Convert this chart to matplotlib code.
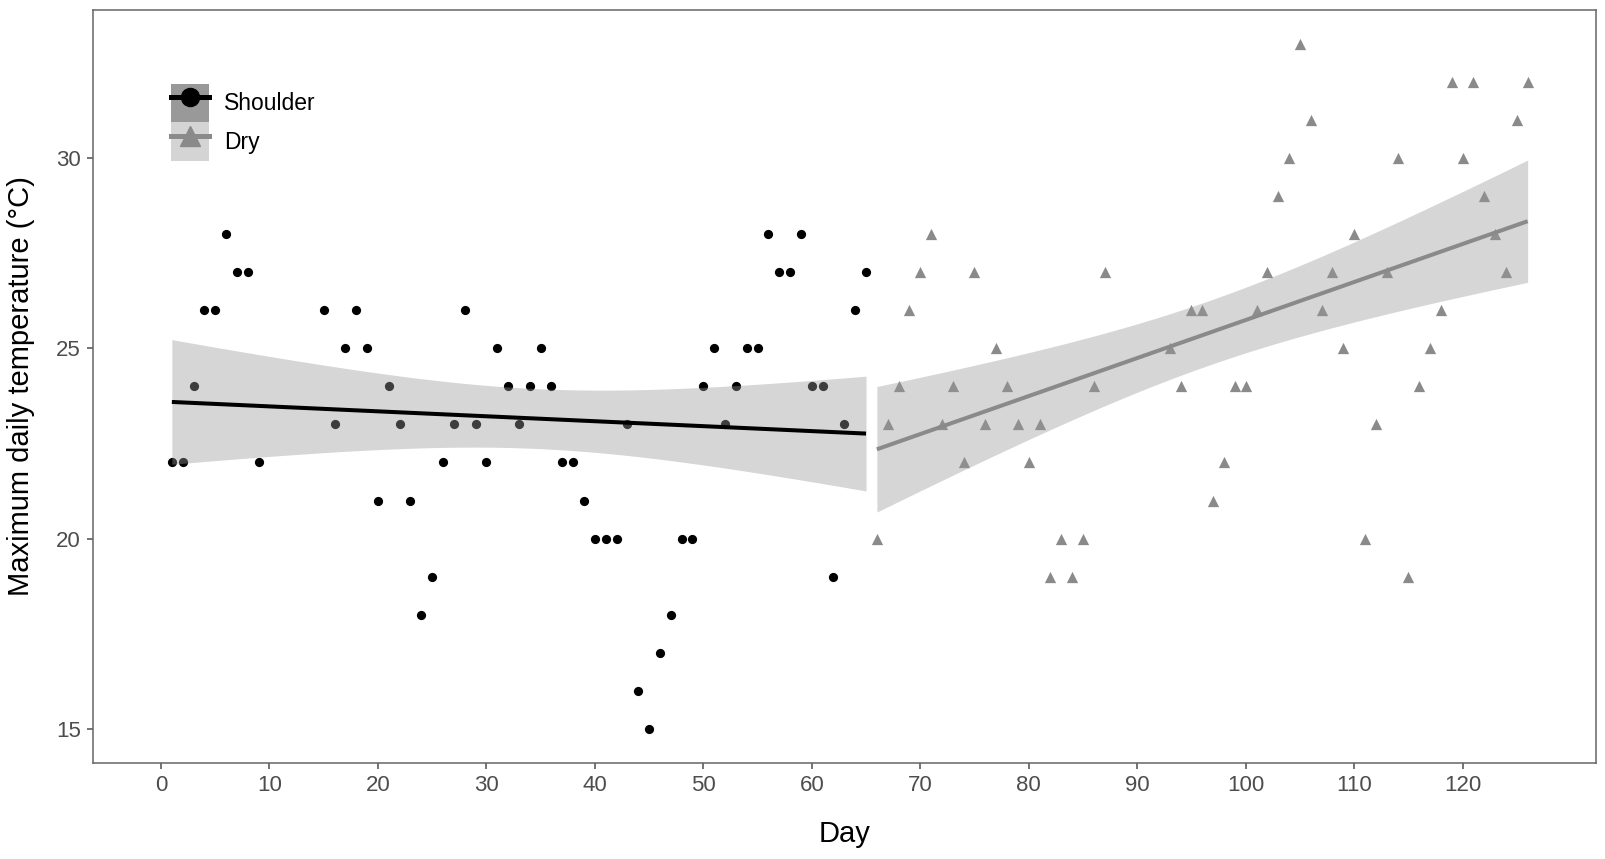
import numpy as np
import matplotlib
matplotlib.use('Agg')
import matplotlib.pyplot as plt
from matplotlib.patches import Patch
from matplotlib.lines import Line2D
from matplotlib.legend_handler import HandlerTuple

plt.rcParams['font.family'] = ['Liberation Sans', 'DejaVu Sans']

# Shoulder season (days 1-9, 15-65)
shoulder_day = [1, 2, 3, 4, 5, 6, 7, 8, 9,
                15, 16, 17, 18, 19, 20, 21, 22, 23, 24, 25, 26, 27, 28, 29, 30,
                31, 32, 33, 34, 35, 36, 37, 38, 39, 40, 41, 42, 43, 44, 45, 46,
                47, 48, 49, 50, 51, 52, 53, 54, 55, 56, 57, 58, 59, 60, 61, 62,
                63, 64, 65]
shoulder_temp = [22, 22, 24, 26, 26, 28, 27, 27, 22,
                 26, 23, 25, 26, 25, 21, 24, 23, 21, 18, 19, 22, 23, 26, 23, 22,
                 25, 24, 23, 24, 25, 24, 22, 22, 21, 20, 20, 20, 23, 16, 15, 17,
                 18, 20, 20, 24, 25, 23, 24, 25, 25, 28, 27, 27, 28, 24, 24, 19,
                 23, 26, 27]

# Dry season (days 66-87, 93-126)
dry_day = [66, 67, 68, 69, 70, 71, 72, 73, 74, 75, 76, 77, 78, 79, 80, 81,
           82, 83, 84, 85, 86, 87,
           93, 94, 95, 96, 97, 98, 99, 100, 101, 102, 103, 104, 105, 106, 107,
           108, 109, 110, 111, 112, 113, 114, 115, 116, 117, 118, 119, 120,
           121, 122, 123, 124, 125, 126]
dry_temp = [20, 23, 24, 26, 27, 28, 23, 24, 22, 27, 23, 25, 24, 23, 22, 23,
            19, 20, 19, 20, 24, 27,
            25, 24, 26, 26, 21, 22, 24, 24, 26, 27, 29, 30, 33, 31, 26,
            27, 25, 28, 20, 23, 27, 30, 19, 24, 25, 26, 32, 30,
            32, 29, 28, 27, 31, 32]

x_ticks = list(range(0, 121, 10))
y_ticks = [15, 20, 25, 30]

black = '#000000'
grey_pt = '#8a8a8a'
ribbon = '#999999'


def lm_fit(x, y, t=2.0):
    x = np.asarray(x, float)
    y = np.asarray(y, float)
    b, a = np.polyfit(x, y, 1)
    n = len(x)
    resid = y - (a + b * x)
    s = np.sqrt(np.sum(resid ** 2) / (n - 2))
    xs = np.linspace(x.min(), x.max(), 80)
    fit = a + b * xs
    se = s * np.sqrt(1.0 / n + (xs - x.mean()) ** 2 / np.sum((x - x.mean()) ** 2))
    return xs, fit, fit - t * se, fit + t * se


fig = plt.figure(figsize=(16.06, 8.59), dpi=100)
ax = fig.add_axes([93 / 1606, 1 - 762.7 / 859, 1503 / 1606, 752.7 / 859])

ax.scatter(shoulder_day, shoulder_temp, s=44, marker='o', color=black,
           linewidths=0, zorder=2)
ax.scatter(dry_day, dry_temp, s=66, marker='^', color=grey_pt,
           linewidths=0, zorder=2)

xs, fit, lo, hi = lm_fit(shoulder_day, shoulder_temp, t=2.0017)
ax.fill_between(xs, lo, hi, color=ribbon, alpha=0.4, linewidth=0, zorder=3)
ax.plot(xs, fit, color=black, lw=2.9, zorder=4, solid_capstyle='butt')

xs, fit, lo, hi = lm_fit(dry_day, dry_temp, t=2.0049)
ax.fill_between(xs, lo, hi, color=ribbon, alpha=0.4, linewidth=0, zorder=3)
ax.plot(xs, fit, color=grey_pt, lw=2.9, zorder=4, solid_capstyle='butt')

ax.set_xlim(-6.27, 132.3)
ax.set_ylim(14.115, 33.88)
ax.set_xticks(x_ticks)
ax.set_yticks(y_ticks)
ax.tick_params(axis='both', colors='#4d4d4d', labelsize=16, length=4.3,
               width=1.1, pad=4.5)
for sp in ax.spines.values():
    sp.set_color('#666666')
    sp.set_linewidth(1.1)

ax.set_xlabel('Day', fontsize=21, labelpad=17)
ax.set_ylabel('Maximum daily temperature (°C)', fontsize=21, labelpad=15)

h1 = (Patch(facecolor='#999999', edgecolor='none'),
      Line2D([], [], color=black, lw=3.6, marker='o', markersize=13))
h2 = (Patch(facecolor='#d4d4d4', edgecolor='none'),
      Line2D([], [], color=grey_pt, lw=3.6, marker='^', markersize=15))
ax.legend([h1, h2], ['Shoulder', 'Dry'], loc='upper left',
          bbox_to_anchor=(0.0517, 0.9017), frameon=False, fontsize=16.5,
          handler_map={tuple: HandlerTuple(ndivide=1, pad=0)},
          handlelength=1.68, handleheight=2.2, labelspacing=0,
          handletextpad=0.63, borderpad=0, borderaxespad=0)

fig.savefig('out.png', dpi=100)
